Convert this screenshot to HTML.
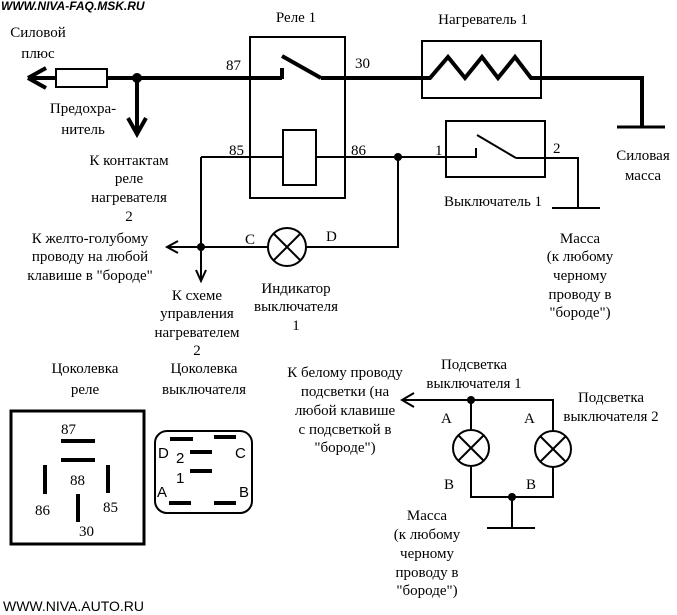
<!DOCTYPE html>
<html><head><meta charset="utf-8"><style>
html,body{margin:0;padding:0;background:#fff;}
svg{display:block;}
text{font-family:"Liberation Serif","DejaVu Serif",serif;font-size:15px;fill:#000;}
.s{font-family:"Liberation Sans","DejaVu Sans",sans-serif;}
</style></head><body>
<svg width="677" height="615" viewBox="0 0 677 615" xmlns="http://www.w3.org/2000/svg">
<g fill="none" stroke="#000">
<path d="M28 78 H282 M282 68 V79 M282 56 L321 78 M321 78 H430 L448 57 L465 78 L482 57 L498 78 L515 57 L531 78 H642 V127" stroke-width="4"/>
<path d="M28 78 L46 68 M28 78 L46 88" stroke-width="4"/>
<rect x="56" y="69" width="51" height="18" stroke-width="2" fill="#fff"/>
<path d="M137 78 V132 M128 118 L137 134 L146 118" stroke-width="4"/>
<path d="M617 127 H665" stroke-width="3"/>
<rect x="250" y="37" width="95" height="161" stroke-width="2"/>
<rect x="283" y="130" width="33" height="55" stroke-width="2"/>
<rect x="422" y="41" width="119" height="57" stroke-width="2"/>
<path d="M201 157 H283 M316 157 H477 M476 148 V158 M477 135 L516 158 M516 158 H578 V208 M552 208 H600" stroke-width="2"/>
<path d="M201 157 V280 M196 270 L201 281 L206 270" stroke-width="2"/>
<path d="M398 157 V247 H306 M268 247 H168 M178 241 L167 247 L178 253" stroke-width="2"/>
<rect x="446" y="121" width="99" height="56" stroke-width="2"/>
<circle cx="287" cy="247" r="19" stroke-width="2"/>
<path d="M274 234 L300 260 M300 234 L274 260" stroke-width="2"/>
<path d="M403 400 H553 V431 M414 393 L402 400 L414 407 M471 400 V430 M471 467 V497 H553 V467 M512 497 V528 M487 528 H535" stroke-width="2"/>
<circle cx="471" cy="448" r="18" stroke-width="2"/><path d="M458 435 L484 461 M484 435 L458 461" stroke-width="2"/>
<circle cx="553" cy="449" r="18" stroke-width="2"/><path d="M540 436 L566 462 M566 436 L540 462" stroke-width="2"/>
<rect x="11" y="411" width="133" height="133" stroke-width="3"/>
<path d="M61 441 H95 M61 460 H95 M45 465 V494 M108 465 V493 M78 494 V522" stroke-width="4"/>
<rect x="155" y="431" width="97" height="82" rx="12" stroke-width="2"/>
<path d="M170 439 H193 M214 437 H236 M190 452 H212 M190 471 H212 M169 503 H191 M214 503 H236" stroke-width="4"/>
</g>
<g fill="#000">
<circle cx="137" cy="78" r="5"/><circle cx="398" cy="157" r="4"/><circle cx="201" cy="247" r="4"/>
<circle cx="471" cy="400" r="4"/><circle cx="512" cy="497" r="4"/>
</g>
<text class="s" x="1" y="10" style="font-size:12px;font-weight:bold;font-style:italic">WWW.NIVA-FAQ.MSK.RU</text>
<text class="s" x="3" y="611" style="font-size:14px">WWW.NIVA.AUTO.RU</text>
<g text-anchor="middle">
<text x="38" y="37">Силовой</text><text x="38" y="58">плюс</text>
<text x="83" y="113">Предохра-</text><text x="83" y="134">нитель</text>
<text x="129" y="165">К контактам</text><text x="129" y="183">реле</text><text x="129" y="202">нагревателя</text><text x="129" y="221">2</text>
<text x="90" y="243">К желто-голубому</text><text x="90" y="261">проводу на любой</text><text x="90" y="280">клавише в "бороде"</text>
<text x="197" y="300">К схеме</text><text x="197" y="318">управления</text><text x="197" y="337">нагревателем</text><text x="197" y="355">2</text>
<text x="296" y="293">Индикатор</text><text x="296" y="311">выключателя</text><text x="296" y="330">1</text>
<text x="296" y="22">Реле 1</text>
<text x="483" y="24">Нагреватель 1</text>
<text x="643" y="160">Силовая</text><text x="643" y="180">масса</text>
<text x="493" y="206">Выключатель 1</text>
<text x="580" y="243">Масса</text><text x="580" y="261">(к любому</text><text x="580" y="280">черному</text><text x="580" y="299">проводу в</text><text x="580" y="317">"бороде")</text>
<text x="85" y="373">Цоколевка</text><text x="85" y="394">реле</text>
<text x="204" y="373">Цоколевка</text><text x="204" y="394">выключателя</text>
<text x="345" y="377">К белому проводу</text><text x="345" y="396">подсветки (на</text><text x="345" y="415">любой клавише</text><text x="345" y="434">с подсветкой в</text><text x="345" y="452">"бороде")</text>
<text x="474" y="369">Подсветка</text><text x="474" y="388">выключателя 1</text>
<text x="611" y="402">Подсветка</text><text x="611" y="421">выключателя 2</text>
<text x="427" y="520">Масса</text><text x="427" y="539">(к любому</text><text x="427" y="558">черному</text><text x="427" y="577">проводу в</text><text x="427" y="595">"бороде")</text>
</g>
<text x="226" y="70">87</text><text x="355" y="68">30</text><text x="229" y="155">85</text><text x="351" y="155">86</text>
<text x="435" y="155">1</text><text x="553" y="153">2</text>
<text x="245" y="244">C</text><text x="326" y="241">D</text>
<text x="441" y="423">A</text><text x="524" y="423">A</text><text x="444" y="489">B</text><text x="526" y="489">B</text>
<g class="s" style="font-size:14px">
<text x="61" y="434">87</text><text x="70" y="485">88</text><text x="35" y="515">86</text><text x="103" y="512">85</text><text x="79" y="536">30</text>
<text class="s" x="158" y="458">D</text><text class="s" x="235" y="458">C</text><text class="s" x="176" y="463">2</text><text class="s" x="176" y="483">1</text><text class="s" x="157" y="497">A</text><text class="s" x="239" y="497">B</text>
</g>
</svg>
</body></html>
